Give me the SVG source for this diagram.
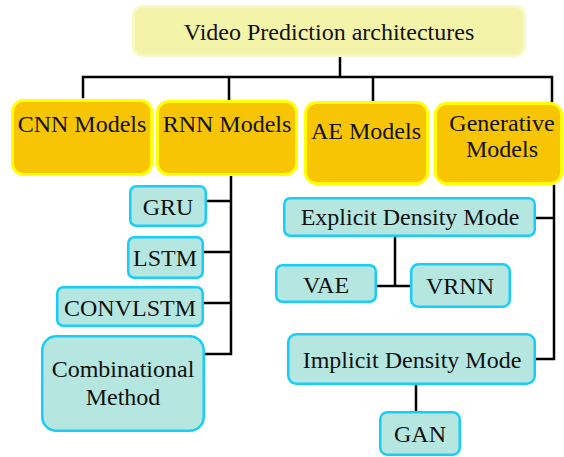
<svg xmlns="http://www.w3.org/2000/svg" width="564" height="457" viewBox="0 0 564 457">
  <style>
    text { font-family: "Liberation Serif", "Times New Roman", serif; font-size: 24px; fill: #111; text-anchor: middle; }
    .root { fill: #f3f3aa; stroke: #f8f8c4; stroke-width: 3; }
    .cat { fill: #f8c505; stroke: #ffff00; stroke-width: 3; }
    .leaf { fill: #b5e6e0; stroke: #18cdf7; stroke-width: 2.5; }
    .wire { fill: none; stroke: #000; stroke-width: 2.5; stroke-linecap: square; }
  </style>

  <!-- tree connectors -->
  <g id="connectors">
    <path class="wire" d="M340 57 V77 M83 77 H552 M83 77 V97 M229 77 V99 M373 77 V100 M552 77 V101"/>
    <path class="wire" d="M231 177 V354 M207 201 H231 M204 252 H231 M204 303 H231 M205 354 H231"/>
    <path class="wire" d="M554 186 V359 M536 218 H554 M536 359 H554"/>
    <path class="wire" d="M395 237 V286 M377 286 H410"/>
    <path class="wire" d="M416 385 V411"/>
  </g>

  <g id="root">
    <rect class="root" x="133.5" y="6.5" width="391" height="49" rx="9"/>
    <text x="329" y="40">Video Prediction architectures</text>
  </g>

  <g id="cnn">
    <rect class="cat" x="12.5" y="100.5" width="139" height="74" rx="11"/>
    <text x="82" y="132">CNN Models</text>
  </g>
  <g id="rnn">
    <rect class="cat" x="157.5" y="101.5" width="139" height="73" rx="11"/>
    <text x="227" y="132">RNN Models</text>
  </g>
  <g id="ae">
    <rect class="cat" x="305.5" y="102.5" width="122" height="81" rx="11"/>
    <text x="366" y="139">AE Models</text>
  </g>
  <g id="generative">
    <rect class="cat" x="435.5" y="103.5" width="126" height="80" rx="11"/>
    <text x="502" y="131">Generative</text>
    <text x="502" y="157">Models</text>
  </g>

  <g id="gru">
    <rect class="leaf" x="130.25" y="186.25" width="75.5" height="39.5" rx="6"/>
    <text x="168" y="215">GRU</text>
  </g>
  <g id="lstm">
    <rect class="leaf" x="128.25" y="237.25" width="74.5" height="40.5" rx="6"/>
    <text x="165" y="266">LSTM</text>
  </g>
  <g id="convlstm">
    <rect class="leaf" x="57.25" y="287.25" width="145.5" height="38.5" rx="6"/>
    <text x="130" y="316">CONVLSTM</text>
  </g>
  <g id="combinational">
    <rect class="leaf" x="42.25" y="336.25" width="161.5" height="94.5" rx="14"/>
    <text x="123" y="377">Combinational</text>
    <text x="123" y="405">Method</text>
  </g>

  <g id="explicit">
    <rect class="leaf" x="284.25" y="198.25" width="250.5" height="37.5" rx="6"/>
    <text x="410" y="225">Explicit Density Mode</text>
  </g>
  <g id="vae">
    <rect class="leaf" x="276.25" y="265.25" width="99.5" height="36.5" rx="6"/>
    <text x="326" y="293">VAE</text>
  </g>
  <g id="vrnn">
    <rect class="leaf" x="411.25" y="264.25" width="98.5" height="42.5" rx="7"/>
    <text x="460" y="294">VRNN</text>
  </g>
  <g id="implicit">
    <rect class="leaf" x="288.25" y="334.25" width="246.5" height="49.5" rx="8"/>
    <text x="412" y="368">Implicit Density Mode</text>
  </g>
  <g id="gan">
    <rect class="leaf" x="380.25" y="412.25" width="79.5" height="42.5" rx="7"/>
    <text x="420" y="442">GAN</text>
  </g>
</svg>
